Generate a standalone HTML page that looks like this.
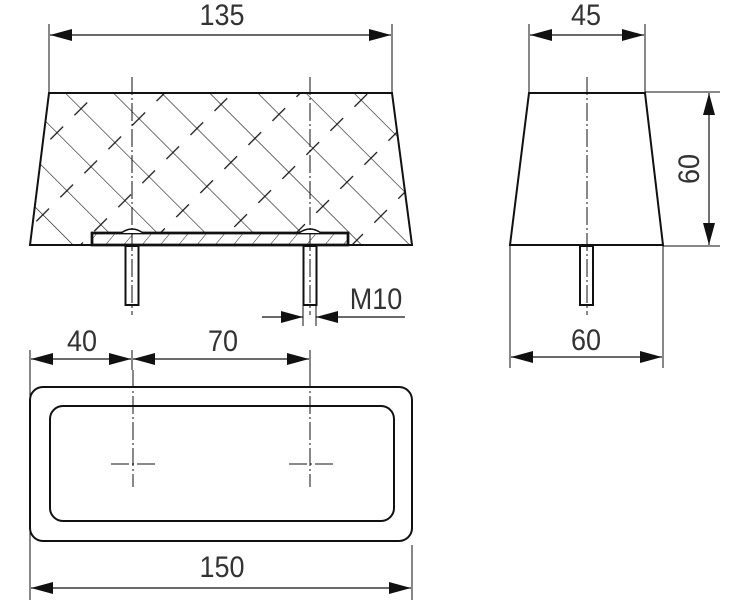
<!DOCTYPE html>
<html><head><meta charset="utf-8"><style>
html,body{margin:0;padding:0;background:#fff;}
svg{display:block;}
text{font-family:"Liberation Sans",sans-serif;font-size:30px;fill:#333;}
</style></head><body>
<svg width="750" height="600" viewBox="0 0 750 600" xmlns="http://www.w3.org/2000/svg">
<defs>
<pattern id="h" patternUnits="userSpaceOnUse" width="34" height="48" patternTransform="translate(20,0) rotate(-45)">
<line x1="0" y1="0" x2="0" y2="48" stroke="#111" stroke-width="1.2"/>
<line x1="-9" y1="24" x2="9" y2="24" stroke="#111" stroke-width="1.2"/>
<line x1="25" y1="24" x2="43" y2="24" stroke="#111" stroke-width="1.2"/>
</pattern>
<pattern id="p" patternUnits="userSpaceOnUse" width="14" height="14" patternTransform="rotate(40)">
<line x1="0" y1="0" x2="0" y2="14" stroke="#222" stroke-width="1"/>
</pattern>
<marker id="a" viewBox="0 0 22 12" refX="22" refY="6" markerWidth="22" markerHeight="12" markerUnits="userSpaceOnUse" orient="auto-start-reverse"><path d="M0,0 L22,6 L0,12 Z" fill="#111"/></marker>
</defs>
<g stroke="#111" fill="none">
<polygon points="49,93 392,93 412,245 30,245" fill="url(#h)" stroke-width="2"/>
<rect x="92" y="233" width="256" height="12" fill="#fff" stroke-width="2.5"/>
<rect x="92" y="233" width="256" height="12" fill="url(#p)" stroke="none"/>
<rect x="92" y="233" width="256" height="12" stroke-width="2.5"/>
<path d="M121,233 Q132,225 143,233" fill="#fff" stroke-width="1.5"/>
<path d="M299,233 Q310,225 321,233" fill="#fff" stroke-width="1.5"/>
<rect x="125.5" y="246" width="13" height="59" fill="#fff" stroke-width="2"/>
<rect x="303.5" y="246" width="13" height="59" fill="#fff" stroke-width="2"/>
<g stroke-width="1" stroke-dasharray="18,3,2,3">
<line x1="132" y1="77" x2="132" y2="315"/>
<line x1="310" y1="77" x2="310" y2="315"/>
</g>
<line x1="49" y1="24" x2="49" y2="93" stroke-width="1"/>
<line x1="392" y1="24" x2="392" y2="93" stroke-width="1"/>
<line x1="50" y1="35" x2="391" y2="35" stroke-width="1.2" marker-start="url(#a)" marker-end="url(#a)"/>
<line x1="303" y1="305" x2="303" y2="326" stroke-width="1"/>
<line x1="316" y1="305" x2="316" y2="326" stroke-width="1"/>
<line x1="262" y1="317" x2="303" y2="317" stroke-width="1.2" marker-end="url(#a)"/>
<line x1="405" y1="317" x2="316" y2="317" stroke-width="1.2" marker-end="url(#a)"/>
<line x1="30" y1="350" x2="30" y2="600" stroke-width="1"/>
<line x1="412" y1="545" x2="412" y2="600" stroke-width="1"/>
<line x1="132" y1="350" x2="132" y2="370" stroke-width="1"/>
<line x1="310" y1="350" x2="310" y2="370" stroke-width="1"/>
<line x1="31" y1="359" x2="131" y2="359" stroke-width="1.2" marker-start="url(#a)" marker-end="url(#a)"/>
<line x1="133" y1="359" x2="309" y2="359" stroke-width="1.2" marker-start="url(#a)" marker-end="url(#a)"/>
<rect x="30" y="387" width="382" height="154" rx="13" stroke-width="2"/>
<rect x="50" y="406" width="344" height="115" rx="13" stroke-width="2"/>
<g stroke-width="1" stroke-dasharray="18,3,2,3">
<line x1="133" y1="370" x2="133" y2="487"/>
<line x1="310" y1="370" x2="310" y2="487"/>
<line x1="111" y1="464" x2="155" y2="464"/>
<line x1="289" y1="464" x2="333" y2="464"/>
</g>
<line x1="31" y1="588" x2="411" y2="588" stroke-width="1.2" marker-start="url(#a)" marker-end="url(#a)"/>
<polygon points="529,93 645,93 663,245 510,245" stroke-width="2"/>
<rect x="580" y="246" width="13" height="59" fill="#fff" stroke-width="2"/>
<line x1="587" y1="77" x2="587" y2="315" stroke-width="1" stroke-dasharray="18,3,2,3"/>
<line x1="529" y1="24" x2="529" y2="93" stroke-width="1"/>
<line x1="645" y1="24" x2="645" y2="93" stroke-width="1"/>
<line x1="530" y1="35" x2="644" y2="35" stroke-width="1.2" marker-start="url(#a)" marker-end="url(#a)"/>
<line x1="645" y1="92" x2="720" y2="92" stroke-width="1"/>
<line x1="663" y1="246" x2="720" y2="246" stroke-width="1"/>
<line x1="709" y1="93" x2="709" y2="245" stroke-width="1.2" marker-start="url(#a)" marker-end="url(#a)"/>
<line x1="510" y1="246" x2="510" y2="368" stroke-width="1"/>
<line x1="663" y1="246" x2="663" y2="368" stroke-width="1"/>
<line x1="511" y1="357" x2="662" y2="357" stroke-width="1.2" marker-start="url(#a)" marker-end="url(#a)"/>
</g>
<g text-anchor="middle">
<text transform="translate(222 25) scale(0.9 1)">135</text>
<text transform="translate(586 25) scale(0.9 1)">45</text>
<text transform="translate(376 309) scale(0.9 1)">M10</text>
<text transform="translate(82 351) scale(0.9 1)">40</text>
<text transform="translate(223 351) scale(0.9 1)">70</text>
<text transform="translate(586 350) scale(0.9 1)">60</text>
<text transform="translate(222 577) scale(0.9 1)">150</text>
<text transform="translate(699 169) rotate(-90) scale(0.9 1)">60</text>
</g>
</svg>
</body></html>
